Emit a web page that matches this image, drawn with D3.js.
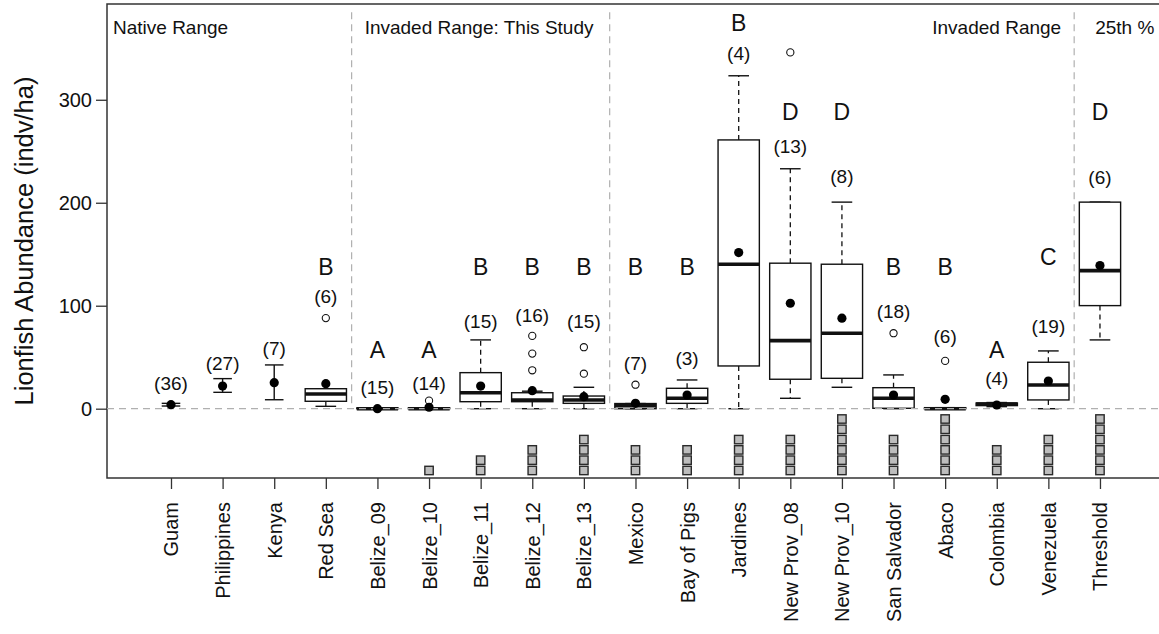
<!DOCTYPE html>
<html>
<head>
<meta charset="utf-8">
<script src="https://cdn.jsdelivr.net/npm/d3@7"></script>
<style>
  html, body { margin: 0; padding: 0; background: #fff; }
  svg { display: block; font-family: "Liberation Sans", Arial, sans-serif; }
</style>
</head>
<body>
<svg id="chart" width="1159" height="634"></svg>
<script>
// Sites, left to right
const categories = ["Guam", "Philippines", "Kenya", "Red Sea", "Belize_09", "Belize_10",
  "Belize_11", "Belize_12", "Belize_13", "Mexico", "Bay of Pigs", "Jardines",
  "New Prov_08", "New Prov_10", "San Salvador", "Abaco", "Colombia", "Venezuela", "Threshold"];

// Native-range sites: mean with error bars only
const errLow  = [2.6, 15.9, 8.7, null, null, null, null, null, null, null, null, null, null, null, null, null, null, null, null];
const errHigh = [5.2, 29.2, 42.5, null, null, null, null, null, null, null, null, null, null, null, null, null, null, null, null];

// Box plot statistics (indv/ha)
const whiskerLow  = [null, null, null, 2.3, 0, 0, 0, 0, 0, 0, 0, 0, 10.1, 20.8, 0, 0, 2, 0, 66.8];
const boxQ1       = [null, null, null, 7.2, 0, 0, 6.8, 6.8, 5.2, 0, 5.2, 41.5, 28.6, 29.5, 0.4, 0, 3, 8.5, 100.1];
const boxMedian   = [null, null, null, 14.3, 0, 0, 15.5, 8.5, 8.5, 2.8, 10.1, 140.3, 66.1, 73.3, 10.1, 0, 4.5, 23, 134.1];
const boxQ3       = [null, null, null, 19.4, 0.7, 0.9, 35, 15.5, 12.3, 5, 19.8, 261, 141.3, 140.3, 20.4, 1, 5.5, 45.1, 200.6];
const whiskerHigh = [null, null, null, 19.4, 0.7, 0.9, 66.8, 17, 20.8, 5, 27.9, 323.3, 233, 200.6, 32.8, 1, 6, 56.1, 200.6];

// Means and outlying values
const means = [3.9, 22, 25.3, 24.3, 0, 1.4, 22, 17.5, 11.7, 5.2, 13.3, 151.6, 102.4, 87.9, 13.3, 9.1, 3.6, 26.9, 139];
const outliers = [[], [], [], [88], [], [7.8], [], [37.3, 53.5, 70.7], [34, 59.7], [23.3], [], [],
  [346], [], [73.3], [46.4], [], [], []];

// Sample sizes and group letters, with the heights (indv/ha) they are written at
const sampleSizes = ["(36)", "(27)", "(7)", "(6)", "(15)", "(14)", "(15)", "(16)", "(15)", "(7)", "(3)", "(4)",
  "(13)", "(8)", "(18)", "(6)", "(4)", "(19)", "(6)"];
const sampleLabelAt = [25, 44.4, 59, 109, 20.4, 24.7, 85, 90.4, 85, 44, 49, 345.4, 254.6, 225.5, 94.3, 70, 29.5, 79.7, 224.5];
const groupLetters = ["", "", "", "B", "A", "A", "B", "B", "B", "B", "B", "B", "D", "D", "B", "B", "A", "C", "D"];
const letterAt = [null, null, null, 138, 57, 57, 138, 138, 138, 138, 138, 374.5, 288.6, 288.6, 138, 138, 57, 147.7, 288.6];

// Number of grey markers stacked beneath each site
const markerCounts = [0, 0, 0, 0, 0, 1, 2, 3, 4, 3, 3, 4, 4, 6, 4, 6, 3, 4, 6];
const markerBase = -60, markerStep = 10;

// Region headings and the divides between them (between site positions)
const regionDividers = [3.5, 8.5, 17.5];
const yTicks = [0, 100, 200, 300];

const svg = d3.select("#chart");
const plot = { left: 107, right: 1165, top: 4, bottom: 478 };

const x = d3.scaleLinear().domain([-1.24, 19.26]).range([plot.left, plot.right]);
const y = d3.scaleLinear().domain([-67.3, 393]).range([plot.bottom, plot.top]);
const unit = x(1) - x(0);
const boxW = 0.8 * unit, capW = 0.4 * unit, errCapW = 0.36 * unit;
const ink = "#111";

// Axes
const yAxis = d3.axisLeft(y).tickValues(yTicks).tickSize(11).tickPadding(4).tickFormat(d3.format("d"));
const gy = svg.append("g").attr("transform", `translate(${plot.left},0)`).call(yAxis);
gy.select(".domain").remove();
gy.selectAll(".tick line").attr("stroke", "#333").attr("stroke-width", 1.3);
gy.selectAll(".tick text").attr("font-size", 20).attr("fill", ink).attr("font-family", "Liberation Sans, Arial, sans-serif");

const xAxis = d3.axisBottom(x).tickValues(d3.range(categories.length)).tickSize(11).tickFormat(i => categories[i]);
const gx = svg.append("g").attr("transform", `translate(0,${plot.bottom})`).call(xAxis);
gx.select(".domain").remove();
gx.selectAll(".tick line").attr("stroke", "#333").attr("stroke-width", 1.3);
gx.selectAll(".tick text")
  .attr("font-size", 20).attr("fill", ink).attr("font-family", "Liberation Sans, Arial, sans-serif")
  .attr("transform", "rotate(-90)")
  .attr("text-anchor", "end")
  .attr("x", -24).attr("y", 0).attr("dy", "0.35em");

// Plot frame (right side lies beyond the page)
svg.append("path")
  .attr("d", `M${plot.right},${plot.top}H${plot.left}V${plot.bottom}H${plot.right}`)
  .attr("fill", "none").attr("stroke", "#333").attr("stroke-width", 1.5);

svg.append("text")
  .attr("transform", `translate(24,${(plot.top + plot.bottom) / 2}) rotate(-90)`)
  .attr("text-anchor", "middle").attr("dy", "0.35em")
  .attr("font-size", 25.5).attr("fill", ink)
  .text("Lionfish Abundance (indv/ha)");

// Region dividers
svg.selectAll("line.divider").data(regionDividers).join("line")
  .attr("class", "divider")
  .attr("x1", d => x(d)).attr("x2", d => x(d))
  .attr("y1", y(385)).attr("y2", y(0))
  .attr("stroke", "#b0b0b0").attr("stroke-width", 1.2).attr("stroke-dasharray", "7,5");

// Region headings
const headY = 34;
svg.append("text").attr("x", plot.left + 6).attr("y", headY).attr("font-size", 19).attr("fill", ink).text("Native Range");
svg.append("text").attr("x", x(regionDividers[0]) + 13).attr("y", headY).attr("font-size", 19).attr("fill", ink).text("Invaded Range: This Study");
svg.append("text").attr("x", x(regionDividers[2]) - 13).attr("y", headY).attr("text-anchor", "end").attr("font-size", 19).attr("fill", ink).text("Invaded Range");
svg.append("text").attr("x", x(regionDividers[2]) + 21).attr("y", headY).attr("font-size", 19).attr("fill", ink).text("25th %");

const idx = d3.range(categories.length);

// Error bars for native sites
const errIdx = idx.filter(i => errLow[i] != null);
const eb = svg.append("g").attr("stroke", ink).attr("stroke-width", 1.4);
errIdx.forEach(i => {
  eb.append("line").attr("x1", x(i)).attr("x2", x(i)).attr("y1", y(errLow[i])).attr("y2", y(errHigh[i]));
  [errLow[i], errHigh[i]].forEach(v => {
    eb.append("line").attr("x1", x(i) - errCapW / 2).attr("x2", x(i) + errCapW / 2).attr("y1", y(v)).attr("y2", y(v));
  });
});

// Box plots
const boxIdx = idx.filter(i => boxQ1[i] != null);
const bg = svg.append("g");
boxIdx.forEach(i => {
  const cx = x(i);
  // whiskers
  bg.append("line").attr("x1", cx).attr("x2", cx).attr("y1", y(boxQ3[i])).attr("y2", y(whiskerHigh[i]))
    .attr("stroke", ink).attr("stroke-width", 1.3).attr("stroke-dasharray", "5,4");
  bg.append("line").attr("x1", cx).attr("x2", cx).attr("y1", y(boxQ1[i])).attr("y2", y(whiskerLow[i]))
    .attr("stroke", ink).attr("stroke-width", 1.3).attr("stroke-dasharray", "5,4");
  [whiskerLow[i], whiskerHigh[i]].forEach(v => {
    bg.append("line").attr("x1", cx - capW / 2).attr("x2", cx + capW / 2).attr("y1", y(v)).attr("y2", y(v))
      .attr("stroke", ink).attr("stroke-width", 1.4);
  });
  // box
  bg.append("rect").attr("x", cx - boxW / 2).attr("width", boxW)
    .attr("y", y(boxQ3[i])).attr("height", y(boxQ1[i]) - y(boxQ3[i]))
    .attr("fill", "#fff").attr("stroke", ink).attr("stroke-width", 1.4);
  // median
  bg.append("line").attr("x1", cx - boxW / 2).attr("x2", cx + boxW / 2)
    .attr("y1", y(boxMedian[i])).attr("y2", y(boxMedian[i]))
    .attr("stroke", ink).attr("stroke-width", 3.6);
});

// Zero line
svg.append("line")
  .attr("x1", plot.left).attr("x2", plot.right).attr("y1", y(0)).attr("y2", y(0))
  .attr("stroke", "#b0b0b0").attr("stroke-width", 1.3).attr("stroke-dasharray", "7,5");

// Outliers
const outPts = idx.flatMap(i => outliers[i].map(v => ({ i, v })));
svg.append("g").selectAll("circle").data(outPts).join("circle")
  .attr("cx", d => x(d.i)).attr("cy", d => y(d.v)).attr("r", 3.6)
  .attr("fill", "#fff").attr("stroke", ink).attr("stroke-width", 1.1);

// Means
svg.append("g").selectAll("circle").data(idx).join("circle")
  .attr("cx", i => x(i)).attr("cy", i => y(means[i])).attr("r", 4.6).attr("fill", "#000");

// Grey markers below zero
const marks = idx.flatMap(i => d3.range(markerCounts[i]).map(k => ({ i, v: markerBase + k * markerStep })));
const ms = 8.4;
svg.append("g").selectAll("rect").data(marks).join("rect")
  .attr("x", d => x(d.i) - ms / 2).attr("y", d => y(d.v) - ms / 2)
  .attr("width", ms).attr("height", ms)
  .attr("fill", "#bdbdbd").attr("stroke", "#2a2a2a").attr("stroke-width", 1.4);

// Sample sizes and group letters
svg.append("g").selectAll("text").data(idx).join("text")
  .attr("x", i => x(i)).attr("y", i => y(sampleLabelAt[i])).attr("dy", "0.35em")
  .attr("text-anchor", "middle").attr("font-size", 19).attr("fill", ink)
  .text(i => sampleSizes[i]);

svg.append("g").selectAll("text").data(idx.filter(i => groupLetters[i])).join("text")
  .attr("x", i => x(i)).attr("y", i => y(letterAt[i])).attr("dy", "0.35em")
  .attr("text-anchor", "middle").attr("font-size", 23).attr("fill", ink)
  .text(i => groupLetters[i]);
</script>
</body>
</html>
